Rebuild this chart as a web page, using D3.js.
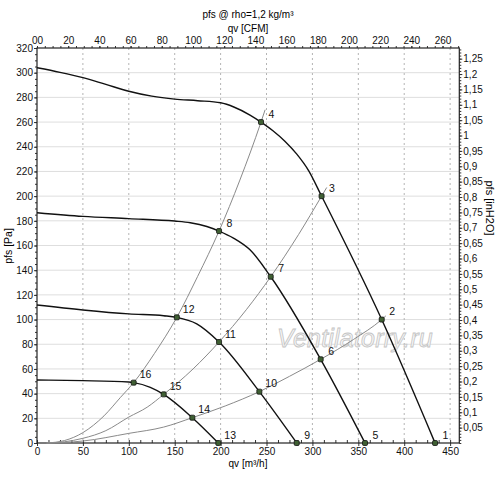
<!DOCTYPE html>
<html><head><meta charset="utf-8">
<script src="https://cdn.jsdelivr.net/npm/d3@7/dist/d3.min.js"></script>
<style>body{margin:0;background:#fff}svg{display:block}text{font-family:"Liberation Sans",Arial,sans-serif}</style>
</head><body><svg id="c" width="500" height="481"></svg>
<script>
// ---- data (qv in m³/h, pfs in Pa) ----
const bottomTicks = [0,50,100,150,200,250,300,350,400,450];
const leftTicks = [0,20,40,60,80,100,120,140,160,180,200,220,240,260,280,300,320];
const topTicks = [0,20,40,60,80,100,120,140,160,180,200,220,240,260];
const topLabels = ["00","20","40","60","80","100","120","140","160","180","200","220","240","260"];
const rightTicks = [0.05,0.1,0.15,0.2,0.25,0.3,0.35,0.4,0.45,0.5,0.55,0.6,0.65,0.7,0.75,0.8,0.85,0.9,0.95,1,1.05,1.1,1.15,1.2,1.25];

const fan1 = [[0,304],[25,300.3],[50,296],[75,290.5],[100,285],[125,281],[150,278.6],[175,277.3],[200,275.6],[215,272],[232,265.7],[244,260],[257,253],[270,244.5],[283,234],[296,220.5],[310,200],[375.5,100],[433.6,0]];
const fan2 = [[0,186.6],[50,183.6],[100,181.8],[150,179.8],[167,178.4],[185,175.4],[198.3,171.7],[214,166],[232,156.5],[254.6,134.7],[309,67.8],[357.3,0]];
const fan3 = [[0,111.8],[50,107.8],[100,104.6],[138,103.1],[152.3,101.8],[174,96.5],[198.3,81.8],[242.2,41.6],[282.9,0]];
const fan4 = [[0,51],[50,50.5],[100,49.4],[105.3,48.9],[123.4,45.1],[138,39.4],[169.2,20.5],[197.5,0]];

const sysA = [[10.5,0],[30,2],[50,8.4],[73,22],[91,37],[105.3,48.9],[128,72.6],[152.3,101.8],[175,135],[198.3,171.7],[221,213],[244,260],[248.5,270]];
const sysB = [[10.5,0],[30,1],[50,3.8],[75,10],[100,21],[120,29],[138,39.4],[170,60],[198.3,81.8],[228,108],[254.6,134.7],[285,169],[310,200],[315.6,207]];
const sysC = [[10.5,0],[50,1.6],[100,7.8],[138,12.9],[169.2,20.5],[205,30],[242.2,41.6],[275,54],[309,67.8],[345,84],[375.5,100],[380,103]];

const pointLabels = ["1","2","3","4","5","6","7","8","9","10","11","12","13","14","15","16"];
const pointQ = [433.6,375.5,310,244,357.3,309,254.6,198.3,282.9,242.2,198.3,152.3,197.5,169.2,138,105.3];
const pointP = [0,100,200,260,0,67.8,134.7,171.7,0,41.6,81.8,101.8,0,20.5,39.4,48.9];

// ---- chart ----
const svg = d3.select("#c");
const x = d3.scaleLinear().domain([0,460]).range([37,459.3]);
const y = d3.scaleLinear().domain([0,320]).range([443,48]);
const xc = d3.scaleLinear().domain([0,460/1.699]).range([37,459.3]);
const yi = d3.scaleLinear().domain([0,320/249.089]).range([443,48]);
const L=37,R=459.3,T=48,B=443;

// gridlines
svg.append("g").selectAll("line").data(leftTicks.filter(d=>d>0&&d<320)).join("line")
  .attr("x1",L).attr("x2",R).attr("y1",d=>y(d)).attr("y2",d=>y(d))
  .attr("stroke","#dedede").attr("stroke-width",1);
svg.append("g").selectAll("line").data(bottomTicks.filter(d=>d>0)).join("line")
  .attr("x1",d=>x(d)).attr("x2",d=>x(d)).attr("y1",T).attr("y2",B)
  .attr("stroke","#b4b4b4").attr("stroke-width",1).attr("stroke-dasharray","2,3");

// axes
const fmt = d=>String(d).replace(".",",");
const gB = svg.append("g").attr("transform",`translate(0,${B})`)
  .call(d3.axisBottom(x).tickValues(bottomTicks).tickSize(3).tickPadding(2));
const gBm = svg.append("g").attr("transform",`translate(0,${B})`)
  .call(d3.axisBottom(x).tickValues(d3.range(0,460,12.5)).tickSize(-3).tickFormat(""));
const gL = svg.append("g").attr("transform",`translate(${L},0)`)
  .call(d3.axisLeft(y).tickValues(leftTicks).tickSize(3).tickPadding(1));
const gLm = svg.append("g").attr("transform",`translate(${L},0)`)
  .call(d3.axisLeft(y).tickValues(d3.range(0,321,5)).tickSize(2).tickFormat(""));
const gT = svg.append("g").attr("transform",`translate(0,${T})`)
  .call(d3.axisTop(xc).tickValues(topTicks).tickSize(2).tickPadding(2).tickFormat((d,i)=>topLabels[i]));
const gTm = svg.append("g").attr("transform",`translate(0,${T})`)
  .call(d3.axisTop(xc).tickValues(d3.range(0,271,5)).tickSize(2).tickFormat(""));
const gR = svg.append("g").attr("transform",`translate(${R},0)`)
  .call(d3.axisRight(yi).tickValues(rightTicks).tickSize(3).tickPadding(1).tickFormat(fmt));
const gRm = svg.append("g").attr("transform",`translate(${R},0)`)
  .call(d3.axisRight(yi).tickValues(d3.range(0,1.285,0.01)).tickSize(2).tickFormat(""));
[gB,gBm,gL,gLm,gT,gTm,gR,gRm].forEach(g=>{
  g.select(".domain").remove();
  g.selectAll("line").attr("stroke","#333");
  g.selectAll("text").attr("font-size",10).attr("fill","#111").style("font-family","'Liberation Sans',Arial,sans-serif");
});
gB.selectAll("text").attr("dy","0.71em");

// frame
svg.append("rect").attr("x",L).attr("y",T).attr("width",R-L).attr("height",B-T)
  .attr("fill","none").attr("stroke","#222").attr("stroke-width",1.2);

// watermark
svg.append("text").attr("x",277).attr("y",347).text("Ventilatorry.ru")
  .attr("font-size",25).attr("font-style","italic").attr("fill","#f6f6f6")
  .attr("stroke","#c4c4c4").attr("stroke-width",0.8).attr("letter-spacing",0.2);

// curves
const line = d3.line().x(d=>x(d[0])).y(d=>y(d[1])).curve(d3.curveMonotoneX);
[sysA,sysB,sysC].forEach(s=>svg.append("path").attr("d",line(s)).attr("fill","none").attr("stroke","#8a8a8a").attr("stroke-width",1));
[fan1,fan2,fan3,fan4].forEach(s=>svg.append("path").attr("d",line(s)).attr("fill","none").attr("stroke","#111").attr("stroke-width",1.4));

// points
const pts = pointLabels.map((l,i)=>({l,q:pointQ[i],p:pointP[i]}));
svg.append("g").selectAll("rect").data(pts).join("rect")
  .attr("x",d=>x(d.q)-2.5).attr("y",d=>y(d.p)-2.5).attr("width",5).attr("height",5).attr("rx",1.2)
  .attr("fill","#3f5f33").attr("stroke","#111").attr("stroke-width",0.8);
svg.append("g").selectAll("text").data(pts).join("text")
  .attr("x",d=>x(d.q)+(d.l.length>1?6:7.5)).attr("y",d=>y(d.p)-4.5).text(d=>d.l)
  .attr("font-size",10.5).attr("fill","#111");

// titles
svg.append("text").attr("x",248).attr("y",18).attr("text-anchor","middle").attr("font-size",10).text("pfs @ rho=1,2 kg/m³");
svg.append("text").attr("x",248).attr("y",32).attr("text-anchor","middle").attr("font-size",10).text("qv [CFM]");
svg.append("text").attr("x",248).attr("y",467).attr("text-anchor","middle").attr("font-size",10).text("qv [m³/h]");
svg.append("text").attr("transform","translate(12,246) rotate(-90)").attr("text-anchor","middle").attr("font-size",10.5).text("pfs [Pa]");
svg.append("text").attr("transform","translate(486,208) rotate(90)").attr("text-anchor","middle").attr("font-size",11).text("pfs [inH2O]");
</script></body></html>
